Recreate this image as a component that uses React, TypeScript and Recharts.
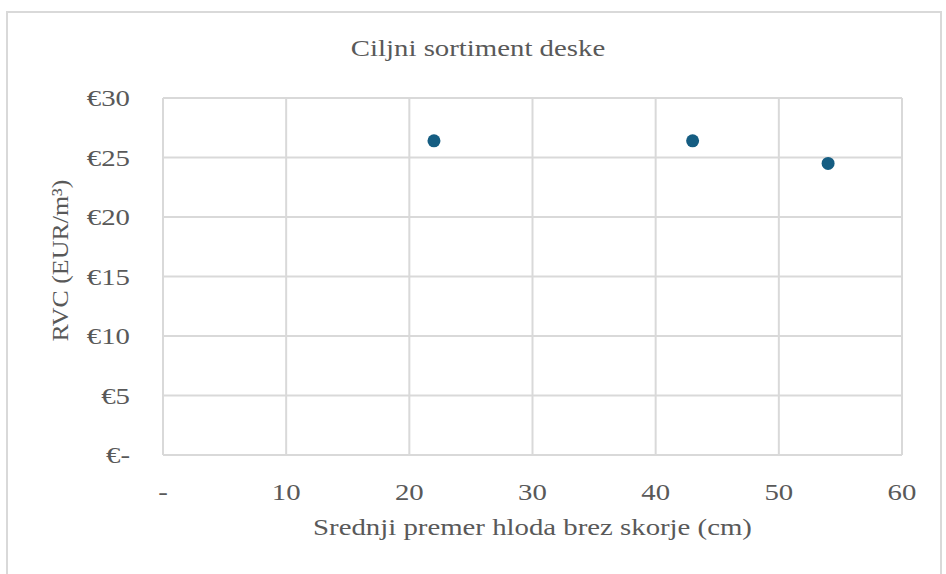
import { ScatterChart, Scatter, XAxis, YAxis, CartesianGrid, Label } from 'recharts';

const TITLE = "Ciljni sortiment deske";
const X_TITLE = "Srednji premer hloda brez skorje (cm)";
const Y_TITLE = "RVC (EUR/m³)";

// mean log diameter (cm) and RVC (EUR/m3)
const diameters = [22, 43, 54];
const rvcValues = [26.4, 26.4, 24.5];

const xTicks = [0, 10, 20, 30, 40, 50, 60];
const yTicks = [0, 5, 10, 15, 20, 25, 30];

const data = diameters.map((d, i) => ({ x: d, y: rvcValues[i] }));

const FONT = '"Liberation Serif", "Times New Roman", serif';
const TEXT = "#595959";
const GRID = "#d9d9d9";
const DOT = "#155d82";
const STRETCH = 1.2; // the picture is wider than tall, text looks stretched

const XTick = ({ x, y, payload }: any) => (
  <g transform={`translate(${x},${y + 45})`}>
    <text transform={`scale(${STRETCH},1)`} textAnchor="middle" fontSize={24} fontFamily={FONT} fill={TEXT}>
      {payload.value === 0 ? "-" : payload.value}
    </text>
  </g>
);

const YTick = ({ x, y, payload }: any) => (
  <g transform={`translate(${x - 33},${y + 8})`}>
    <text transform={`scale(${STRETCH},1)`} textAnchor="end" fontSize={24} fontFamily={FONT} fill={TEXT}>
      {payload.value === 0 ? "€-" : `€${payload.value}`}
    </text>
  </g>
);

const XTitle = ({ viewBox }: any) => {
  const cx = viewBox.x + viewBox.width / 2;
  return (
    <g transform={`translate(${cx},${viewBox.y + 80})`}>
      <text transform={`scale(${STRETCH},1)`} textAnchor="middle" fontSize={24} fontFamily={FONT} fill={TEXT}>
        {X_TITLE}
      </text>
    </g>
  );
};

const YTitle = ({ viewBox }: any) => {
  const cy = viewBox.y + viewBox.height / 2 - 16;
  return (
    <g transform={`translate(68,${cy}) rotate(-90)`}>
      <text transform="scale(1.08,1)" textAnchor="middle" fontSize={24} fontFamily={FONT} fill={TEXT}>
        {Y_TITLE}
      </text>
    </g>
  );
};

const Dot = (props: any) => <circle cx={props.cx} cy={props.cy} r={6.5} fill={DOT} />;

export default function App() {
  return (
    <div style={{ position: 'absolute', left: 0, top: 0, width: 946, height: 574, overflow: 'hidden', background: '#fff' }}>
      <div style={{ position: 'absolute', left: 6, top: 11, width: 932, height: 600, border: `2px solid ${GRID}` }} />
      <div
        style={{
          position: 'absolute', left: 478, top: 36, whiteSpace: 'nowrap',
          transform: `translateX(-50%) scaleX(${STRETCH})`,
          fontFamily: FONT, fontSize: 24, lineHeight: '24px', color: TEXT,
        }}
      >
        {TITLE}
      </div>
      <div style={{ position: 'absolute', left: 0, top: 0 }}>
        <ScatterChart width={946} height={574} margin={{ top: 98, right: 44, bottom: 0, left: 0 }}>
          <CartesianGrid stroke={GRID} strokeWidth={2} horizontal vertical />
          <XAxis
            type="number"
            dataKey="x"
            domain={[0, 60]}
            ticks={xTicks}
            height={119}
            axisLine={{ stroke: GRID, strokeWidth: 2 }}
            tickLine={false}
            tickSize={0}
            tickMargin={0}
            tick={<XTick />}
          >
            <Label content={<XTitle />} />
          </XAxis>
          <YAxis
            type="number"
            dataKey="y"
            domain={[0, 30]}
            ticks={yTicks}
            width={163}
            axisLine={{ stroke: GRID, strokeWidth: 2 }}
            tickLine={false}
            tickSize={0}
            tickMargin={0}
            tick={<YTick />}
          >
            <Label content={<YTitle />} />
          </YAxis>
          <Scatter data={data} fill={DOT} shape={<Dot />} isAnimationActive={false} />
        </ScatterChart>
      </div>
    </div>
  );
}
